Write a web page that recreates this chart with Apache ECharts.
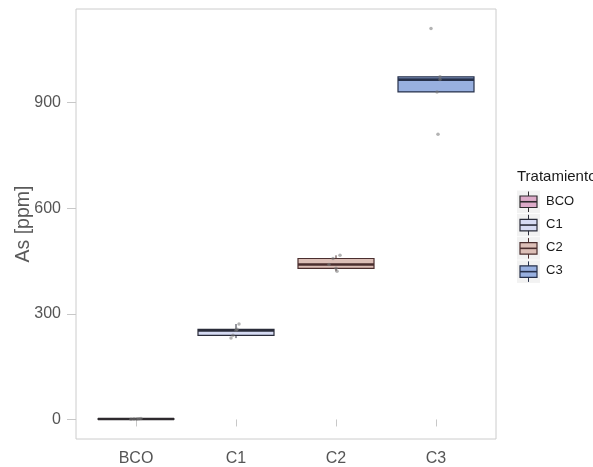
<!DOCTYPE html>
<html>
<head>
<meta charset="utf-8">
<script src="https://cdn.jsdelivr.net/npm/echarts@6/dist/echarts.min.js"></script>
<style>
  html, body { margin: 0; padding: 0; background: #fff; }
  #chart { width: 593px; height: 467px; }
</style>
</head>
<body>
<div id="chart"></div>
<script>
// Treatment groups and their measured As concentrations (ppm)
const categories = ['BCO', 'C1', 'C2', 'C3'];
const valuesBCO = [0.5, 1.0, 1.5, 2.0, 3.0];
const valuesC1 = [231, 239, 253, 256, 271];
const valuesC2 = [421, 429, 440, 457, 466];
const valuesC3 = [810, 930, 965, 973, 1110];
// horizontal jitter of each observation (category units)
const jitterBCO = [-0.05, -0.02, 0.01, 0.03, 0.05];
const jitterC1 = [-0.05, -0.03, 0.0, 0.01, 0.03];
const jitterC2 = [0.01, 0.0, -0.07, -0.03, 0.04];
const jitterC3 = [0.02, 0.01, 0.04, 0.04, -0.05];
const yTicks = [0, 300, 600, 900];

const groups = [valuesBCO, valuesC1, valuesC2, valuesC3];
const jitters = [jitterBCO, jitterC1, jitterC2, jitterC3];
const fills = ['#dcaac8', '#d6dbf3', '#dcbfb7', '#98b0e0'];
const strokes = ['#2e2a2e', '#2a2c3a', '#4a2e2e', '#26304a'];
const FONT = '"Liberation Sans", Arial, sans-serif';

// quantile type 7 (linear interpolation)
function quantile(sorted, p) {
  const h = (sorted.length - 1) * p;
  const lo = Math.floor(h), hi = Math.ceil(h);
  return sorted[lo] + (sorted[hi] - sorted[lo]) * (h - lo);
}
function boxStats(vals) {
  const s = vals.slice().sort((a, b) => a - b);
  const q1 = quantile(s, 0.25), med = quantile(s, 0.5), q3 = quantile(s, 0.75);
  const iqr = q3 - q1;
  const inside = s.filter(v => v >= q1 - 1.5 * iqr && v <= q3 + 1.5 * iqr);
  return [inside[0], q1, med, q3, inside[inside.length - 1]];
}

const HALF = 0.38; // half box width in category units

function renderBox(params, api) {
  const i = params.seriesIndex;
  const x = api.value(0);
  const lo = api.value(1), q1 = api.value(2), med = api.value(3), q3 = api.value(4), hi = api.value(5);
  const pL = api.coord([x - HALF, q3]);
  const pR = api.coord([x + HALF, q1]);
  const pMedL = api.coord([x - HALF, med]);
  const pMedR = api.coord([x + HALF, med]);
  const pLo = api.coord([x, lo]);
  const pHi = api.coord([x, hi]);
  const pQ1 = api.coord([x, q1]);
  const pQ3 = api.coord([x, q3]);
  const stroke = strokes[i];
  return {
    type: 'group',
    children: [
      { type: 'line', shape: { x1: pHi[0], y1: pHi[1], x2: pQ3[0], y2: pQ3[1] }, style: { stroke: stroke, lineWidth: 1 } },
      { type: 'line', shape: { x1: pLo[0], y1: pLo[1], x2: pQ1[0], y2: pQ1[1] }, style: { stroke: stroke, lineWidth: 1 } },
      { type: 'rect', shape: { x: pL[0], y: pL[1], width: pR[0] - pL[0], height: Math.max(pR[1] - pL[1], 0.1) },
        style: { fill: fills[i], stroke: stroke, lineWidth: 1.2 } },
      { type: 'line', shape: { x1: pMedL[0], y1: pMedL[1], x2: pMedR[0], y2: pMedR[1] }, style: { stroke: stroke, lineWidth: 2.6 } }
    ]
  };
}

const series = [];
groups.forEach((vals, i) => {
  series.push({
    name: categories[i],
    type: 'custom',
    renderItem: renderBox,
    encode: { x: 0, y: [1, 2, 3, 4, 5] },
    data: [[i + 1].concat(boxStats(vals))],
    z: 2
  });
});
groups.forEach((vals, i) => {
  series.push({
    name: categories[i] + ' obs',
    type: 'scatter',
    symbolSize: 3.5,
    itemStyle: { color: 'rgba(120,120,120,0.7)' },
    data: vals.map((v, k) => [i + 1 + jitters[i][k], v]),
    z: 3
  });
});

// legend keys: small box glyphs drawn as graphics
const legendX = 517, legendY0 = 190.5, legendStep = 23.3;
const legendGraphics = [{
  type: 'text', left: legendX, top: 169,
  style: { text: 'Tratamiento', font: '15px ' + FONT, fill: '#1a1a1a' }
}];
categories.forEach((c, i) => {
  const y = legendY0 + i * legendStep;
  legendGraphics.push(
    { type: 'rect', shape: { x: legendX, y: y, width: 23, height: 22.5 }, style: { fill: '#f2f2f2' } },
    { type: 'line', shape: { x1: legendX + 11.5, y1: y + 1, x2: legendX + 11.5, y2: y + 21.5 }, style: { stroke: strokes[i], lineWidth: 1 } },
    { type: 'rect', shape: { x: legendX + 3, y: y + 5.5, width: 17, height: 11.5 }, style: { fill: fills[i], stroke: strokes[i], lineWidth: 1.2 } },
    { type: 'line', shape: { x1: legendX + 3, y1: y + 11.25, x2: legendX + 20, y2: y + 11.25 }, style: { stroke: strokes[i], lineWidth: 1.6 } },
    { type: 'text', left: legendX + 29, top: y + 4, style: { text: c, font: '13px ' + FONT, fill: '#1a1a1a' } }
  );
});

const chart = echarts.init(document.getElementById('chart'), null, { renderer: 'canvas' });
chart.setOption({
  animation: false,
  backgroundColor: '#ffffff',
  grid: {
    left: 76, top: 9, right: 97, bottom: 28, outerBoundsMode: 'none',
    show: true, borderColor: '#cccccc', borderWidth: 1, backgroundColor: '#ffffff'
  },
  xAxis: {
    type: 'value', min: 0.4, max: 4.6,
    axisLine: { show: false },
    splitLine: { show: false },
    axisTick: { show: true, length: 7, customValues: [1, 2, 3, 4], lineStyle: { color: '#c8c8c8' } },
    axisLabel: {
      customValues: [1, 2, 3, 4], margin: 12,
      formatter: v => categories[Math.round(v) - 1],
      fontSize: 16, color: '#555555', fontFamily: FONT
    }
  },
  yAxis: {
    type: 'value', min: -55.5, max: 1165.5,
    name: 'As [ppm]', nameLocation: 'middle', nameGap: 42, nameMoveOverlap: false,
    nameTextStyle: { fontSize: 19.5, color: '#5a5a5a', fontFamily: FONT },
    axisLine: { show: false },
    splitLine: { show: false },
    axisTick: { show: true, length: 9, customValues: yTicks, lineStyle: { color: '#c8c8c8' } },
    axisLabel: { customValues: yTicks, margin: 15, fontSize: 16, color: '#555555', fontFamily: FONT }
  },
  series: series,
  graphic: legendGraphics
});
</script>
</body>
</html>
